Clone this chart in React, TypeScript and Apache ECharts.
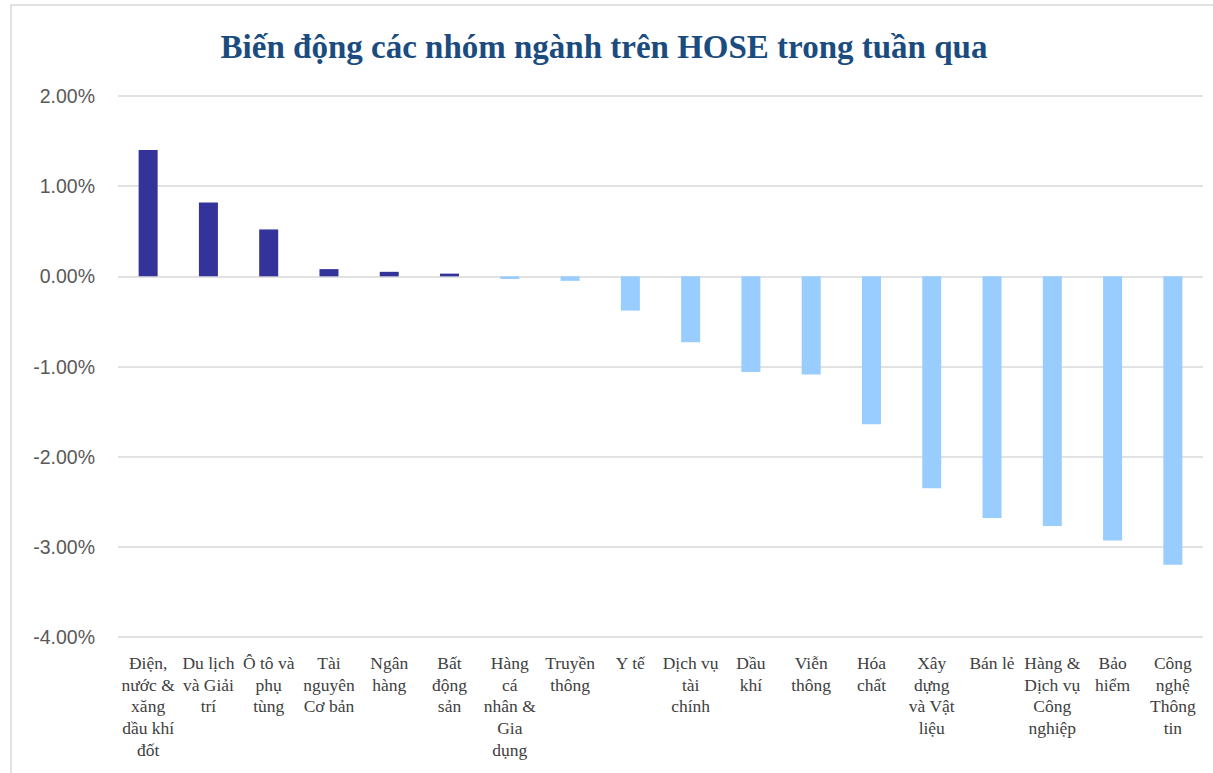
import React, { useEffect, useRef } from "react";
import * as echarts from "echarts";

const titleText = "Biến động các nhóm ngành trên HOSE trong tuần qua";

const categories = [
  "Điện,\nnước &\nxăng\ndầu khí\nđốt",
  "Du lịch\nvà Giải\ntrí",
  "Ô tô và\nphụ\ntùng",
  "Tài\nnguyên\nCơ bản",
  "Ngân\nhàng",
  "Bất\nđộng\nsản",
  "Hàng\ncá\nnhân &\nGia\ndụng",
  "Truyền\nthông",
  "Y tế",
  "Dịch vụ\ntài\nchính",
  "Dầu\nkhí",
  "Viễn\nthông",
  "Hóa\nchất",
  "Xây\ndựng\nvà Vật\nliệu",
  "Bán lẻ",
  "Hàng &\nDịch vụ\nCông\nnghiệp",
  "Bảo\nhiểm",
  "Công\nnghệ\nThông\ntin",
];

// weekly change, in percent
const changes = [
  1.4, 0.82, 0.52, 0.08, 0.05, 0.03, -0.03, -0.05, -0.38, -0.73, -1.06, -1.09,
  -1.64, -2.35, -2.68, -2.77, -2.93, -3.2,
];

const yMin = -4;
const yMax = 2;
const yStep = 1;

const POS_COLOR = "#333399";
const NEG_COLOR = "#99CCFF";

export default function App() {
  const ref = useRef<HTMLDivElement>(null);

  useEffect(() => {
    if (!ref.current) return;
    const chart = echarts.init(ref.current, null, { renderer: "svg" });
    chart.setOption({
      animation: false,
      backgroundColor: "#ffffff",
      title: {
        text: titleText,
        left: 599,
        top: 25,
        textAlign: "center",
        textStyle: {
          fontFamily: "'Liberation Serif', 'DejaVu Serif', serif",
          fontWeight: "bold",
          fontSize: 33,
          color: "#1B4C80",
        },
      },
      graphic: [
        {
          type: "rect",
          shape: { x: 11, y: 5, width: 1300, height: 900 },
          style: { fill: "none", stroke: "#D9D9D9", lineWidth: 1.5 },
          silent: true,
          z: -1,
        },
      ],
      grid: { left: 118, right: 10, top: 96, bottom: 136, containLabel: false },
      xAxis: {
        type: "category",
        data: categories,
        position: "bottom",
        axisLine: { show: false, onZero: false },
        axisTick: { show: false },
        axisLabel: {
          interval: 0,
          margin: 15,
          fontFamily: "'Liberation Serif', 'DejaVu Serif', serif",
          fontSize: 17.5,
          lineHeight: 21.7,
          color: "#404040",
          align: "center",
        },
      },
      yAxis: {
        type: "value",
        min: yMin,
        max: yMax,
        interval: yStep,
        axisLine: { show: false },
        axisTick: { show: false },
        splitLine: { lineStyle: { color: "#D9D9D9", width: 1.5 } },
        axisLabel: {
          margin: 23,
          fontFamily: "'Liberation Sans', Arial, sans-serif",
          fontSize: 19.5,
          color: "#595959",
          formatter: (v: number) => v.toFixed(2) + "%",
        },
      },
      series: [
        {
          type: "bar",
          data: changes.map((v) => ({
            value: v,
            itemStyle: { color: v >= 0 ? POS_COLOR : NEG_COLOR },
          })),
          barWidth: 19,
        },
      ],
    });
    return () => chart.dispose();
  }, []);

  return (
    <div
      ref={ref}
      style={{ position: "fixed", left: 0, top: 0, width: 1213, height: 773 }}
    />
  );
}
